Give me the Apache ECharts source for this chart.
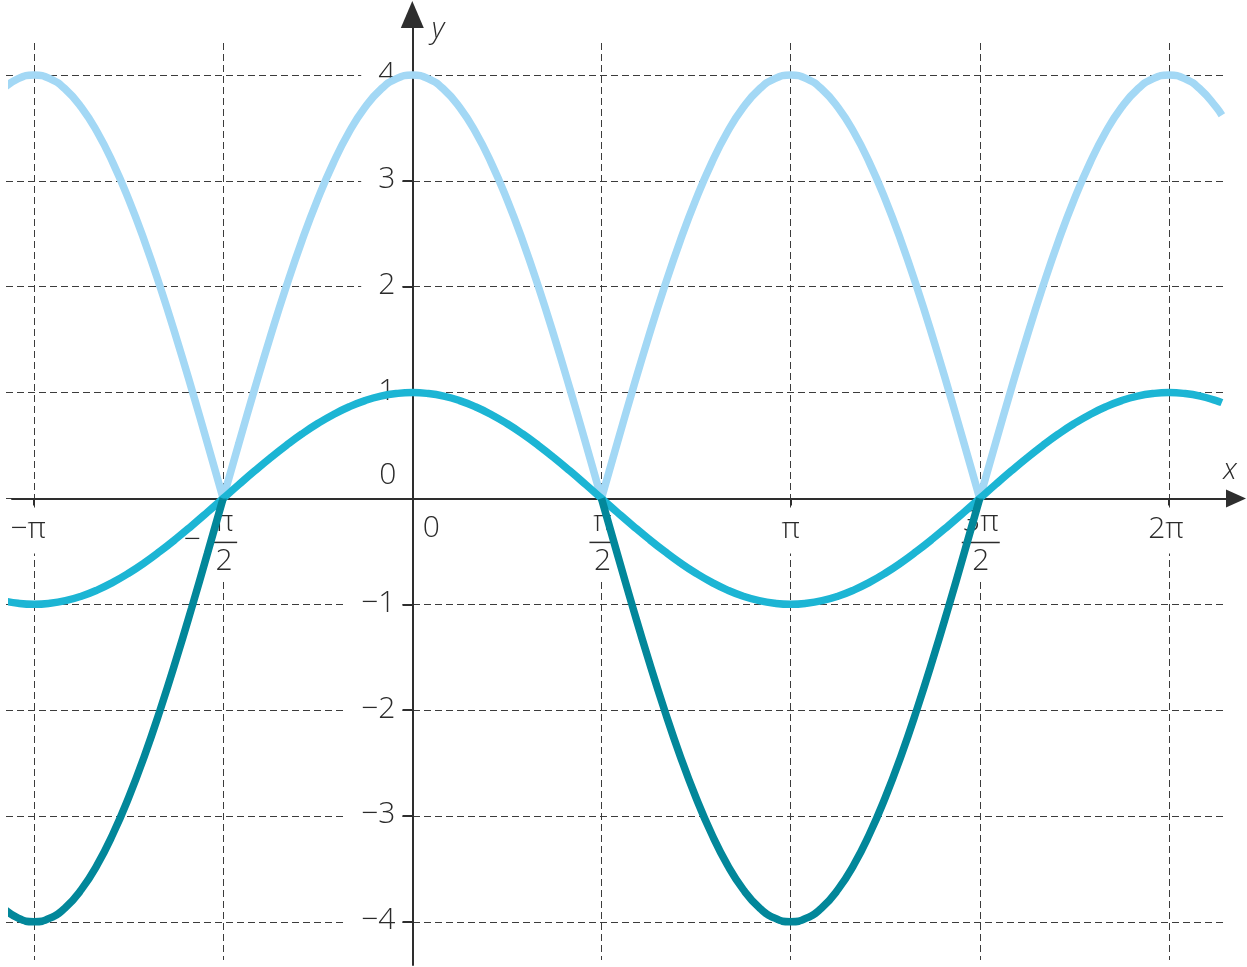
<!DOCTYPE html>
<html>
<head>
<meta charset="utf-8">
<script src="https://cdn.jsdelivr.net/npm/echarts@6/dist/echarts.min.js"></script>
<style>
html,body{margin:0;padding:0;background:#fff;}
#c{width:1247px;height:967px;}
</style>
</head>
<body>
<div id="c"></div>
<script>
// x values in units of π
const xs = [
  -1.0833, -1.0417,
  -1, -0.9583, -0.9167, -0.875, -0.8333, -0.7917, -0.75, -0.7083, -0.6667, -0.625, -0.5833, -0.5417,
  -0.5, -0.4583, -0.4167, -0.375, -0.3333, -0.2917, -0.25, -0.2083, -0.1667, -0.125, -0.0833, -0.0417,
  0, 0.0417, 0.0833, 0.125, 0.1667, 0.2083, 0.25, 0.2917, 0.3333, 0.375, 0.4167, 0.4583,
  0.5, 0.5417, 0.5833, 0.625, 0.6667, 0.7083, 0.75, 0.7917, 0.8333, 0.875, 0.9167, 0.9583,
  1, 1.0417, 1.0833, 1.125, 1.1667, 1.2083, 1.25, 1.2917, 1.3333, 1.375, 1.4167, 1.4583,
  1.5, 1.5417, 1.5833, 1.625, 1.6667, 1.7083, 1.75, 1.7917, 1.8333, 1.875, 1.9167, 1.9583,
  2, 2.0417, 2.0833, 2.125,
  2.14
];
// y = cos x
const cosY = [
  -0.966, -0.991,
  -1, -0.991, -0.966, -0.924, -0.866, -0.793, -0.707, -0.609, -0.5, -0.383, -0.259, -0.131,
  0, 0.131, 0.259, 0.383, 0.5, 0.609, 0.707, 0.793, 0.866, 0.924, 0.966, 0.991,
  1, 0.991, 0.966, 0.924, 0.866, 0.793, 0.707, 0.609, 0.5, 0.383, 0.259, 0.131,
  0, -0.131, -0.259, -0.383, -0.5, -0.609, -0.707, -0.793, -0.866, -0.924, -0.966, -0.991,
  -1, -0.991, -0.966, -0.924, -0.866, -0.793, -0.707, -0.609, -0.5, -0.383, -0.259, -0.131,
  0, 0.131, 0.259, 0.383, 0.5, 0.609, 0.707, 0.793, 0.866, 0.924, 0.966, 0.991,
  1, 0.991, 0.966, 0.924,
  0.905
];
// y = 4|cos x|
const fourAbsCosY = [
  3.864, 3.966,
  4, 3.966, 3.864, 3.696, 3.464, 3.173, 2.828, 2.435, 2, 1.531, 1.035, 0.522,
  0, 0.522, 1.035, 1.531, 2, 2.435, 2.828, 3.173, 3.464, 3.696, 3.864, 3.966,
  4, 3.966, 3.864, 3.696, 3.464, 3.173, 2.828, 2.435, 2, 1.531, 1.035, 0.522,
  0, 0.522, 1.035, 1.531, 2, 2.435, 2.828, 3.173, 3.464, 3.696, 3.864, 3.966,
  4, 3.966, 3.864, 3.696, 3.464, 3.173, 2.828, 2.435, 2, 1.531, 1.035, 0.522,
  0, 0.522, 1.035, 1.531, 2, 2.435, 2.828, 3.173, 3.464, 3.696, 3.864, 3.966,
  4, 3.966, 3.864, 3.696,
  3.62
];
// y = 4cos x where it is negative
const fourCosNegY = [
  -3.864, -3.966,
  -4, -3.966, -3.864, -3.696, -3.464, -3.173, -2.828, -2.435, -2, -1.531, -1.035, -0.522,
  0, null, null, null, null, null, null, null, null, null, null, null,
  null, null, null, null, null, null, null, null, null, null, null, null,
  0, -0.522, -1.035, -1.531, -2, -2.435, -2.828, -3.173, -3.464, -3.696, -3.864, -3.966,
  -4, -3.966, -3.864, -3.696, -3.464, -3.173, -2.828, -2.435, -2, -1.531, -1.035, -0.522,
  0, null, null, null, null, null, null, null, null, null, null, null,
  null, null, null, null,
  null
];
const xTickValues = [-1, -0.5, 0, 0.5, 1, 1.5, 2];
const xTickLabels = ['−π', '−π/2', '0', 'π/2', 'π', '3π/2', '2π'];
const yTickValues = [-4, -3, -2, -1, 0, 1, 2, 3, 4];
const yTickLabels = ['−4', '−3', '−2', '−1', '0', '1', '2', '3', '4'];

// ---- layout (pixel mapping) ----
const W = 1247, H = 967;
const X0 = 412.3, PX_PER_PI = 378.3, Y0 = 498.4, PX_PER_UNIT = 105.85;
const xv = px => (px - X0) / PX_PER_PI;
const yv = py => (Y0 - py) / PX_PER_UNIT;

const FONT = '300 30px "Open Sans"';
const TXT = '#2b2b2b';
const AXIS = '#2e2e2e';
const GRIDC = '#3c3c3c';
const LW = 7.5;

const chart = echarts.init(document.getElementById('c'), null, {renderer: 'canvas'});

function txt(s, x, y, align) {
  return {type: 'text', style: {text: s, x: x, y: y, align: align || 'center', verticalAlign: 'middle', font: FONT, fill: TXT}};
}

function renderXTick(params, api) {
  const p = api.coord([api.value(0), 0]);
  const lab = xTickLabels[api.value(2)];
  const neg = lab.charAt(0) === '−';
  const body = neg ? lab.slice(1) : lab;
  const ch = [];
  if (lab === '0') {
    ch.push(txt('0', p[0] + 19, p[1] + 30));
  } else if (body.indexOf('/') >= 0) {
    const parts = body.split('/');
    const half = 7 + 6 * parts[0].length;
    ch.push({type: 'rect', shape: {x: p[0] - half - 3, y: p[1] + 9, width: 2 * half + 6, height: 74}, style: {fill: '#fff'}});
    ch.push(txt(parts[0], p[0] + 1, p[1] + 24));
    ch.push({type: 'line', shape: {x1: p[0] - half + 1, y1: p[1] + 44, x2: p[0] + half + 1, y2: p[1] + 44}, style: {stroke: TXT, lineWidth: 1.5}});
    ch.push(txt(parts[1], p[0] + 1, p[1] + 63));
    if (neg) ch.push(txt('−', p[0] - 31, p[1] + 42));
  } else {
    ch.push({type: 'rect', shape: {x: p[0] - 22, y: p[1] + 9, width: 44, height: 46}, style: {fill: '#fff'}});
    const dx = neg ? -6 : (body.length > 1 ? -3 : 0);
    ch.push(txt(lab, p[0] + dx, p[1] + 31));
  }
  return {type: 'group', children: ch};
}

function renderYTick(params, api) {
  const p = api.coord([0, api.value(1)]);
  const lab = yTickLabels[api.value(2)];
  if (lab === '0') {
    return txt('0', p[0] - 16, p[1] - 23, 'right');
  }
  return {type: 'text', style: {text: lab, x: p[0] - 10, y: p[1] - 1, align: 'right', verticalAlign: 'middle',
    font: FONT, fill: TXT, backgroundColor: '#fff', padding: [0, 7, 0, 17]}};
}

const pairs = ys => xs.map((x, i) => [x, ys[i]]);
// break the |cos| line at its interior zeros so each arch is smoothed on its own (sharp cusps)
function pairsWithCusps(ys) {
  const out = [];
  xs.forEach((x, i) => {
    out.push([x, ys[i]]);
    if (ys[i] === 0 && i > 0 && i < xs.length - 1) {
      out.push([x, null]);
      out.push([x, ys[i]]);
    }
  });
  return out;
}

const hidden = {show: false};
const option = {
  animation: false,
  backgroundColor: '#fff',
  grid: [
    {left: 12, right: W - 1236, top: 14.5, bottom: H - 965, outerBoundsMode: 'none', containLabel: false},
    {left: X0 - PX_PER_PI, right: W - (X0 + 2 * PX_PER_PI), top: 43, bottom: H - 960, outerBoundsMode: 'none', containLabel: false},
    {left: 6, right: W - 1227, top: Y0 - 4 * PX_PER_UNIT, bottom: H - (Y0 + 4 * PX_PER_UNIT), outerBoundsMode: 'none', containLabel: false}
  ],
  xAxis: [
    {gridIndex: 0, type: 'value', min: xv(12), max: xv(1236), z: 3,
      axisLine: {show: true, onZero: true, symbol: ['none', 'triangle'], symbolSize: [18, 20], lineStyle: {color: AXIS, width: 2}},
      axisTick: hidden, axisLabel: hidden, splitLine: hidden},
    {gridIndex: 1, type: 'value', min: -1, max: 2, interval: 0.5, z: 0,
      axisLine: {show: false, onZero: true},
      axisTick: {show: true, inside: false, length: 7, lineStyle: {color: AXIS, width: 2}},
      axisLabel: hidden,
      splitLine: {show: true, showMinLine: true, showMaxLine: true, lineStyle: {color: GRIDC, width: 1, type: [7, 4]}}},
    {gridIndex: 2, type: 'value', min: xv(6), max: xv(1227), z: 0,
      axisLine: {show: false, onZero: true}, axisTick: hidden, axisLabel: hidden, splitLine: hidden}
  ],
  yAxis: [
    {gridIndex: 0, type: 'value', min: yv(965), max: yv(14.5), z: 3,
      axisLine: {show: true, onZero: true, symbol: ['none', 'triangle'], symbolSize: [23, 27], lineStyle: {color: AXIS, width: 2}},
      axisTick: hidden, axisLabel: hidden, splitLine: hidden},
    {gridIndex: 1, type: 'value', min: yv(960), max: yv(43), z: 0,
      axisLine: {show: false, onZero: true}, axisTick: hidden, axisLabel: hidden, splitLine: hidden},
    {gridIndex: 2, type: 'value', min: -4, max: 4, interval: 1, z: 0,
      axisLine: {show: false, onZero: true},
      axisTick: {show: true, inside: false, length: 10, lineStyle: {color: AXIS, width: 2}},
      axisLabel: hidden,
      splitLine: {show: true, showMinLine: true, showMaxLine: true, lineStyle: {color: GRIDC, width: 1, type: [7, 4]}}}
  ],
  graphic: [
    {type: 'text', x: 438, y: 30, z: 10, style: {text: 'y', font: 'italic 300 29px "Open Sans"', fill: TXT, align: 'center', verticalAlign: 'middle'}},
    {type: 'text', x: 1230, y: 471, z: 10, style: {text: 'x', font: 'italic 300 29px "Open Sans"', fill: TXT, align: 'center', verticalAlign: 'middle'}}
  ],
  series: [
    {type: 'custom', name: 'xTicks', xAxisIndex: 0, yAxisIndex: 0, clip: false, silent: true, z: 2,
      data: xTickValues.map((v, i) => [v, 0, i]), renderItem: renderXTick},
    {type: 'custom', name: 'yTicks', xAxisIndex: 0, yAxisIndex: 0, clip: false, silent: true, z: 2,
      data: yTickValues.map((v, i) => [0, v, i]), renderItem: renderYTick},
    {type: 'line', name: 'y = 4|cos x|', xAxisIndex: 0, yAxisIndex: 0, data: pairsWithCusps(fourAbsCosY),
      symbol: 'none', showSymbol: false, clip: false, silent: true, z: 5, connectNulls: false, smooth: true,
      lineStyle: {color: '#a3d8f5', width: LW}},
    {type: 'line', name: 'y = cos x', xAxisIndex: 0, yAxisIndex: 0, data: pairs(cosY),
      symbol: 'none', showSymbol: false, clip: false, silent: true, z: 6, smooth: true,
      lineStyle: {color: '#1cb5d4', width: LW}},
    {type: 'line', name: 'y = 4cos x', xAxisIndex: 0, yAxisIndex: 0, data: pairs(fourCosNegY),
      symbol: 'none', showSymbol: false, clip: false, silent: true, z: 7, connectNulls: false, smooth: true,
      lineStyle: {color: '#02879a', width: LW}}
  ]
};
chart.setOption(option);
</script>
</body>
</html>
